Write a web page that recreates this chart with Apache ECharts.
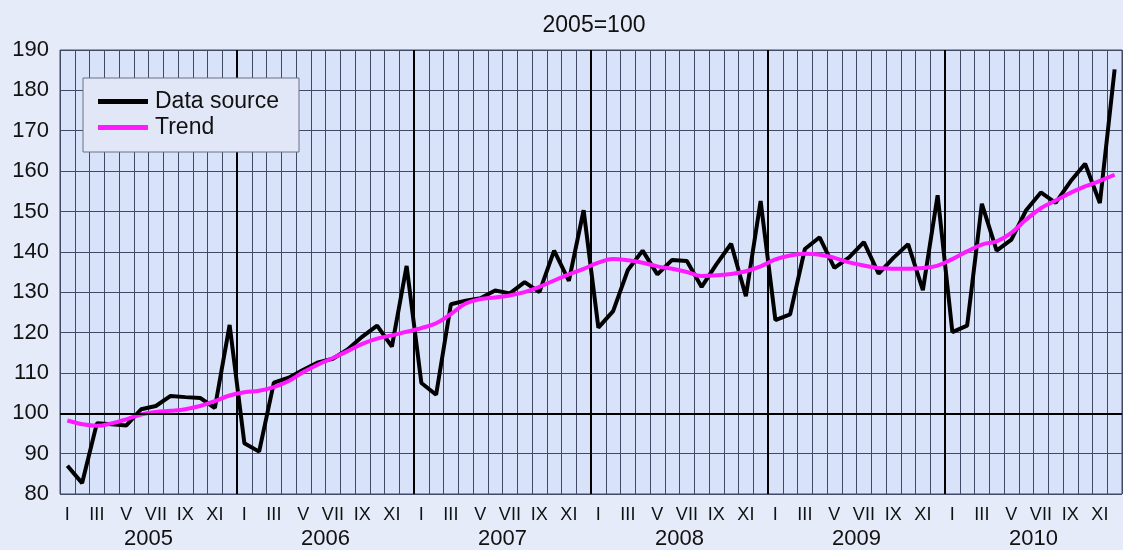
<!DOCTYPE html>
<html>
<head>
<meta charset="utf-8">
<script src="https://cdn.jsdelivr.net/npm/echarts@6/dist/echarts.min.js"></script>
<style>
html,body{margin:0;padding:0;background:#e6ebf9;}
#chart{width:1123px;height:550px;}
</style>
</head>
<body>
<div id="chart"></div>
<script>
var years = ['2005','2006','2007','2008','2009','2010'];
var romanMonths = ['I','II','III','IV','V','VI','VII','VIII','IX','X','XI','XII'];
var yTicks = {min: 80, max: 190, step: 10};
var dataSource = [
  87.0, 82.7, 97.5, 97.3, 97.0, 101.0, 101.8, 104.3, 104.0, 103.8, 101.3, 121.9,
  92.6, 90.5, 107.6, 108.8, 110.8, 112.6, 113.5, 115.8, 119.0, 121.7, 116.5, 136.5,
  107.5, 104.6, 127.0, 127.9, 128.5, 130.4, 129.7, 132.5, 130.0, 140.3, 132.8, 150.3,
  121.2, 125.3, 135.5, 140.3, 134.4, 138.0, 137.7, 131.3, 136.9, 142.0, 129.0, 152.6,
  123.1, 124.5, 140.7, 143.6, 136.0, 138.6, 142.4, 134.6, 138.5, 141.9, 130.5, 154.0,
  120.1, 121.7, 151.9, 140.3, 143.0, 150.3, 154.7, 152.1, 157.4, 161.8, 152.1, 185.2
];
var trend = [
  98.2, 97.3, 96.9, 97.5, 98.5, 99.7, 100.3, 100.6, 101.0, 101.8, 103.0, 104.4,
  105.2, 105.6, 106.5, 108.0, 110.2, 112.1, 113.7, 115.4, 117.2, 118.5, 119.3, 120.2,
  121.1, 122.3, 124.6, 127.2, 128.3, 128.7, 129.2, 130.0, 131.3, 132.9, 134.4, 135.8,
  137.3, 138.2, 137.9, 137.3, 136.4, 135.8, 135.0, 134.0, 134.2, 134.5, 135.2, 136.4,
  138.1, 139.1, 139.5, 139.3, 138.5, 137.4, 136.6, 136.0, 135.8, 135.8, 136.0, 136.6,
  138.2, 140.1, 141.8, 142.6, 144.7, 148.0, 150.8, 152.7, 154.6, 156.2, 157.6, 159.1
];
var baseLine = 100;

var monthLabels = [];
years.forEach(function(){ romanMonths.forEach(function(m){ monthLabels.push(m); }); });

var FONT = '"Liberation Sans", Arial, Helvetica, sans-serif';
var gridColor = '#414a64';

var chart = echarts.init(document.getElementById('chart'), null, {renderer:'canvas'});
chart.setOption({
  backgroundColor: '#e6ebf9',
  animation: false,
  title: {
    text: '2005=100',
    left: 589, top: 9, textAlign: 'center',
    textStyle: {fontFamily: FONT, fontSize: 23, fontWeight: 'normal', color: '#111'}
  },
  legend: {
    data: ['Data source', 'Trend'],
    orient: 'vertical',
    left: 83, top: 78,
    padding: [12, 20, 13, 15],
    itemGap: 3,
    itemWidth: 50, itemHeight: 5,
    icon: 'rect',
    backgroundColor: '#e1e7f6',
    borderColor: '#6b7184',
    borderWidth: 1,
    textStyle: {fontFamily: FONT, fontSize: 23, lineHeight: 23, color: '#111', padding: [0,0,0,2]}
  },
  grid: {
    left: 60, top: 50, right: 1, bottom: 56,
    show: true, backgroundColor: '#d8e3fa', borderColor: gridColor, borderWidth: 1
  },
  xAxis: [{
    type: 'category',
    data: monthLabels,
    boundaryGap: true,
    axisLine: {show: false},
    axisTick: {show: false},
    axisLabel: {interval: 1, fontFamily: FONT, fontSize: 18, color: '#111', margin: 12},
    splitLine: {show: true, interval: 0, lineStyle: {color: gridColor, width: 1}}
  }, {
    type: 'category',
    data: years,
    position: 'bottom',
    offset: 29,
    boundaryGap: true,
    axisLine: {show: false},
    axisTick: {show: false},
    axisLabel: {fontFamily: FONT, fontSize: 22, color: '#111', margin: 5},
    splitLine: {show: true, showMinLine: false, showMaxLine: false, lineStyle: {color: '#000', width: 2}}
  }],
  yAxis: {
    type: 'value',
    min: yTicks.min, max: yTicks.max, interval: yTicks.step,
    axisLine: {show: false},
    axisTick: {show: false},
    axisLabel: {fontFamily: FONT, fontSize: 22, color: '#111', margin: 11},
    splitLine: {show: true, lineStyle: {color: gridColor, width: 1}}
  },
  series: [{
    name: 'Data source',
    type: 'line',
    xAxisIndex: 0,
    data: dataSource,
    symbol: 'none',
    lineStyle: {color: '#000', width: 4},
    itemStyle: {color: '#000'},
    markLine: {
      silent: true, symbol: 'none',
      label: {show: false},
      lineStyle: {color: '#000', width: 2, type: 'solid'},
      data: [{yAxis: baseLine}]
    }
  }, {
    name: 'Trend',
    type: 'line',
    xAxisIndex: 0,
    data: trend,
    symbol: 'none',
    smooth: 0.4,
    lineStyle: {color: '#ff1aff', width: 4},
    itemStyle: {color: '#ff1aff'}
  }]
});
</script>
</body>
</html>
